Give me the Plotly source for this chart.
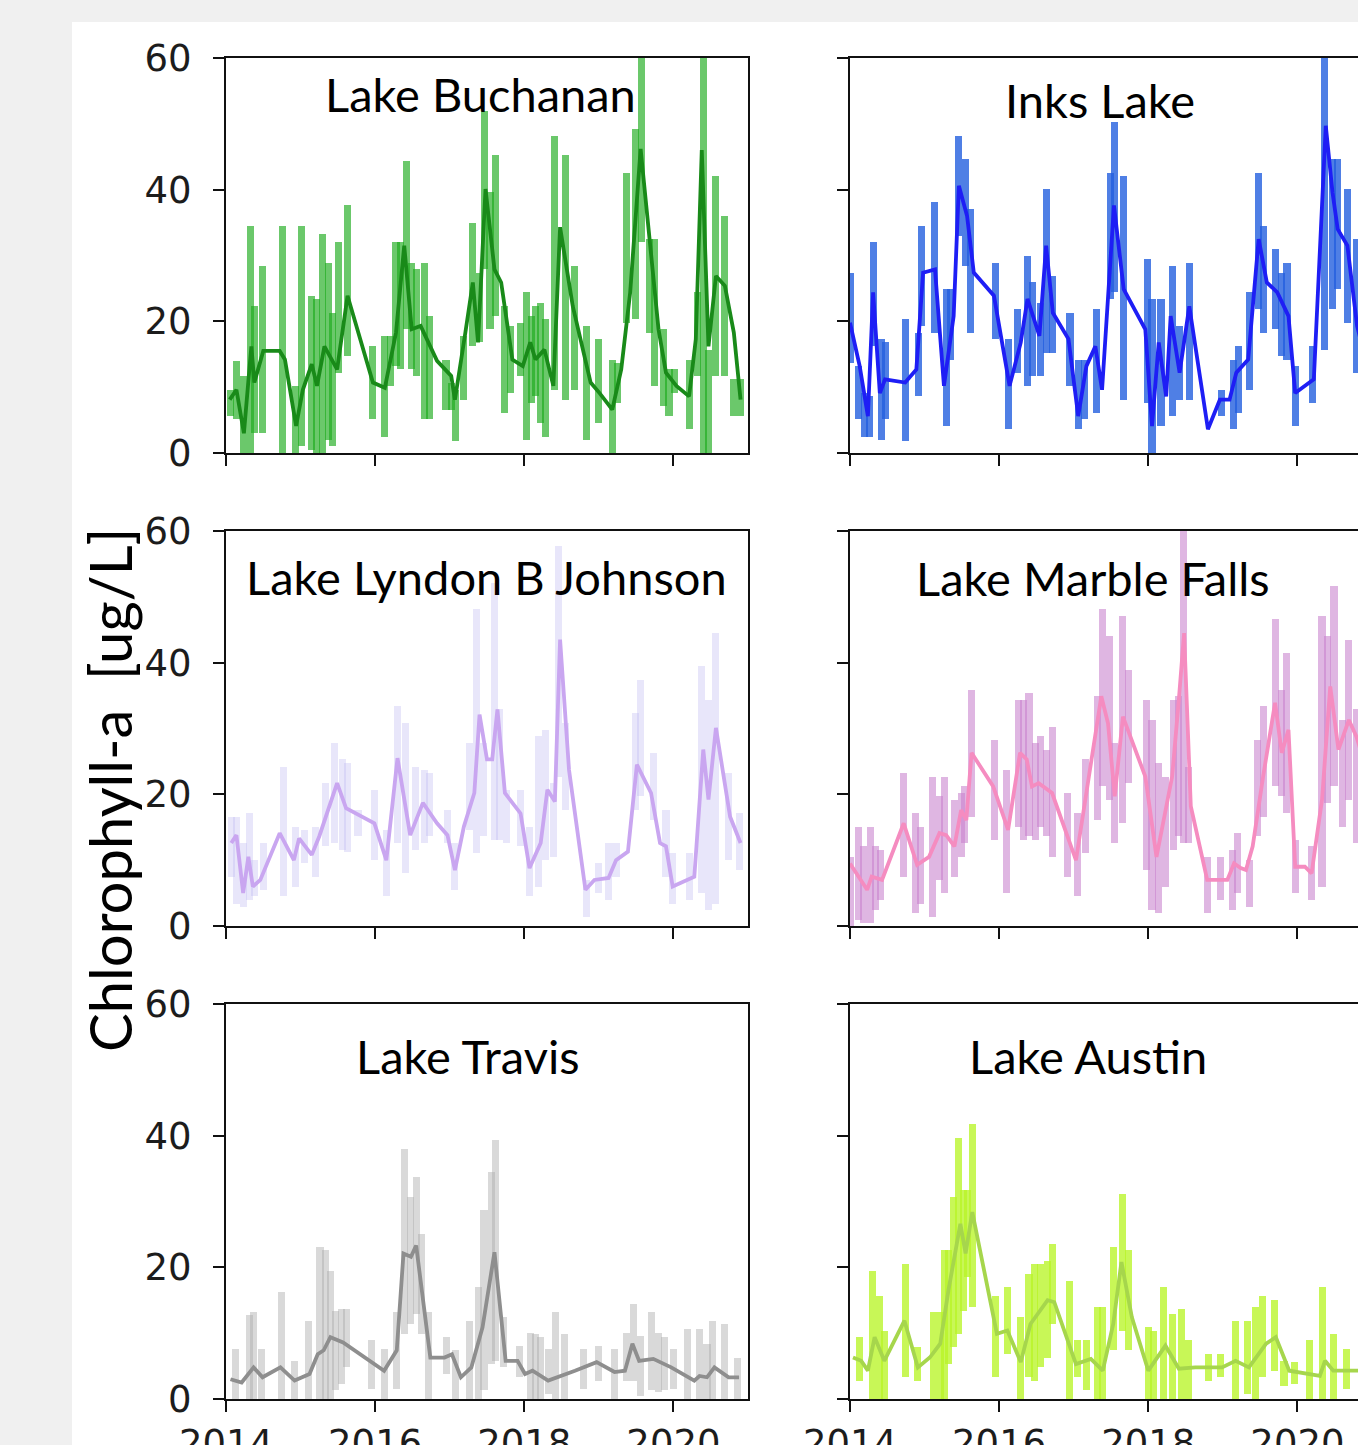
import plotly.graph_objects as go

# ---------------- data (decimal years, chlorophyll-a ug/L) ----------------
BUCHANAN_LINE_X = [2014.05, 2014.14, 2014.24, 2014.34, 2014.38, 2014.50, 2014.72, 2014.79, 2014.94, 2015.03,
                   2015.15, 2015.22, 2015.32, 2015.49, 2015.63, 2015.77, 2015.97, 2016.13, 2016.28, 2016.39,
                   2016.49, 2016.61, 2016.83, 2017.02, 2017.07, 2017.21, 2017.31, 2017.38, 2017.48, 2017.60,
                   2017.69, 2017.84, 2017.98, 2018.08, 2018.15, 2018.27, 2018.39, 2018.48, 2018.65, 2018.89,
                   2019.01, 2019.18, 2019.30, 2019.42, 2019.56, 2019.68, 2019.80, 2019.90, 2020.04, 2020.21,
                   2020.30, 2020.38, 2020.47, 2020.57, 2020.69, 2020.81, 2020.90]
BUCHANAN_LINE_Y = [8.1, 9.6, 3.0, 16.2, 10.7, 15.5, 15.5, 14.2, 4.1, 9.6,
                   13.5, 10.2, 16.2, 12.7, 23.9, 18.3, 10.7, 9.9, 18.3, 31.5,
                   18.8, 19.3, 14.0, 11.7, 8.1, 18.3, 25.9, 16.8, 40.1, 27.9,
                   25.9, 14.2, 13.2, 16.8, 14.2, 15.7, 10.2, 34.3, 22.3, 10.7,
                   9.1, 6.6, 12.7, 24.4, 46.2, 32.5, 18.8, 12.2, 10.2, 8.6,
                   17.3, 46.0, 16.2, 26.9, 25.4, 18.3, 8.1]
BUCHANAN_BAR_X = [2014.06, 2014.14, 2014.23, 2014.33, 2014.38, 2014.49, 2014.76, 2014.93, 2015.01, 2015.15,
                  2015.21, 2015.29, 2015.37, 2015.43, 2015.51, 2015.63, 2015.97, 2016.13, 2016.21, 2016.28,
                  2016.34, 2016.42, 2016.49, 2016.56, 2016.66, 2016.73, 2016.95, 2017.02, 2017.08, 2017.19,
                  2017.31, 2017.40, 2017.47, 2017.54, 2017.62, 2017.74, 2017.81, 2017.95, 2018.03, 2018.10,
                  2018.15, 2018.22, 2018.29, 2018.41, 2018.55, 2018.67, 2018.84, 2018.99, 2019.18, 2019.25,
                  2019.37, 2019.49, 2019.57, 2019.68, 2019.75, 2019.87, 2019.94, 2020.02, 2020.21, 2020.32,
                  2020.40, 2020.47, 2020.56, 2020.69, 2020.81, 2020.90]
BUCHANAN_BAR_HI = [9.6, 14.0, 11.7, 34.5, 22.3, 28.4, 34.5, 10.2, 34.5, 23.9,
                   23.4, 33.2, 28.9, 21.3, 32.0, 37.6, 16.2, 17.8, 17.8, 32.0,
                   32.0, 44.4, 28.9, 27.9, 28.9, 20.8, 14.2, 10.7, 9.6, 17.8,
                   35.0, 27.4, 52.0, 39.6, 45.2, 22.3, 19.3, 19.8, 24.4, 20.8,
                   22.3, 22.8, 20.3, 48.2, 45.2, 28.4, 19.3, 17.3, 14.2, 13.7,
                   42.6, 49.2, 65.0, 32.5, 32.5, 18.8, 12.7, 12.7, 14.2, 24.4,
                   65.0, 15.7, 42.1, 36.0, 11.2, 11.2]
BUCHANAN_BAR_LO = [5.6, 5.1, 0, 0, 3.0, 3.0, 0, 0, 1.0, 0.5,
                   0, 0, 2.0, 1.0, 12.2, 14.7, 5.1, 2.5, 10.2, 13.2,
                   12.7, 18.8, 12.7, 11.7, 5.1, 5.1, 6.6, 6.6, 1.8, 8.1,
                   16.2, 16.8, 27.9, 18.8, 20.8, 6.1, 9.1, 11.7, 2.0, 7.6,
                   8.6, 4.6, 2.5, 9.6, 8.1, 9.6, 2.0, 4.6, 0, 7.6,
                   19.8, 20.3, 32.0, 18.3, 10.2, 7.1, 5.6, 9.1, 3.6, 11.7,
                   0, 0, 11.7, 11.7, 5.6, 5.6]

INKS_LINE_X = [2014.00, 2014.13, 2014.24, 2014.31, 2014.40, 2014.47, 2014.74, 2014.89, 2014.98, 2015.14,
               2015.26, 2015.39, 2015.46, 2015.57, 2015.66, 2015.93, 2016.14, 2016.29, 2016.38, 2016.54,
               2016.63, 2016.72, 2016.93, 2017.06, 2017.17, 2017.29, 2017.38, 2017.54, 2017.67, 2017.96,
               2018.05, 2018.14, 2018.24, 2018.30, 2018.42, 2018.55, 2018.80, 2018.96, 2019.09, 2019.18,
               2019.34, 2019.48, 2019.59, 2019.73, 2019.88, 2019.97, 2020.22, 2020.29, 2020.38, 2020.47,
               2020.54, 2020.67, 2020.80, 2020.92]
INKS_LINE_Y = [19.8, 13.2, 5.6, 24.4, 9.1, 11.2, 10.7, 12.7, 27.4, 27.9,
               10.2, 20.8, 40.6, 36.0, 27.4, 23.9, 10.2, 16.8, 23.4, 17.8,
               31.5, 21.3, 17.3, 5.6, 13.2, 16.2, 9.6, 37.6, 24.9, 18.8,
               4.1, 16.8, 8.6, 20.8, 12.2, 22.3, 3.6, 8.1, 8.1, 12.2,
               14.2, 32.5, 25.9, 24.4, 20.8, 9.1, 11.2, 27.4, 49.7, 39.6,
               34.0, 31.5, 19.3, 14.0]
INKS_BAR_X = [2014.00, 2014.12, 2014.19, 2014.26, 2014.31, 2014.42, 2014.47, 2014.75, 2014.92, 2014.96,
              2015.13, 2015.29, 2015.35, 2015.46, 2015.55, 2015.62, 2015.95, 2016.12, 2016.25, 2016.38,
              2016.45, 2016.56, 2016.63, 2016.72, 2016.95, 2017.06, 2017.15, 2017.31, 2017.49, 2017.55,
              2017.67, 2017.99, 2018.05, 2018.17, 2018.33, 2018.42, 2018.55, 2018.98, 2019.14, 2019.21,
              2019.36, 2019.48, 2019.54, 2019.70, 2019.79, 2019.86, 2019.97, 2020.20, 2020.36, 2020.47,
              2020.54, 2020.67, 2020.79]
INKS_BAR_HI = [27.4, 13.2, 9.1, 8.6, 32.0, 17.3, 16.8, 20.3, 18.3, 34.5,
               38.1, 24.9, 24.9, 48.2, 44.7, 37.1, 28.9, 17.3, 21.8, 29.9,
               25.9, 22.8, 40.1, 26.9, 21.3, 14.2, 14.2, 21.8, 42.6, 50.3,
               42.1, 29.4, 23.4, 23.4, 28.4, 19.3, 28.9, 9.6, 14.2, 16.2,
               24.4, 42.6, 34.5, 31.0, 27.4, 28.9, 13.2, 16.2, 65.0, 44.7,
               44.7, 40.1, 32.5]
INKS_BAR_LO = [13.7, 5.1, 2.5, 2.5, 16.2, 2.0, 5.1, 1.8, 8.6, 19.3,
               18.3, 4.1, 14.2, 33.0, 28.4, 18.3, 17.3, 3.6, 12.2, 10.2,
               11.7, 11.7, 15.2, 15.2, 10.2, 3.6, 5.1, 6.1, 23.4, 24.4,
               8.1, 7.6, 0, 4.1, 5.6, 8.1, 8.1, 5.6, 3.6, 6.1,
               9.6, 21.8, 18.3, 18.8, 14.7, 14.2, 4.1, 7.6, 15.7, 21.8,
               24.9, 19.8, 12.2]

LBJ_LINE_X = [2014.07, 2014.14, 2014.23, 2014.30, 2014.36, 2014.46, 2014.72, 2014.91, 2014.98, 2015.15,
              2015.25, 2015.49, 2015.61, 2015.87, 2015.99, 2016.15, 2016.30, 2016.47, 2016.64, 2016.83,
              2016.97, 2017.07, 2017.19, 2017.33, 2017.40, 2017.50, 2017.57, 2017.64, 2017.74, 2017.95,
              2018.07, 2018.22, 2018.31, 2018.41, 2018.48, 2018.60, 2018.82, 2018.94, 2019.13, 2019.23,
              2019.39, 2019.51, 2019.70, 2019.82, 2019.90, 2019.99, 2020.28, 2020.40, 2020.47, 2020.57,
              2020.76, 2020.90]
LBJ_LINE_Y = [12.6, 13.8, 5.0, 10.5, 6.0, 7.0, 14.1, 10.0, 13.3, 10.8,
              13.6, 21.7, 17.9, 16.4, 15.6, 10.0, 25.5, 13.8, 18.7, 15.6,
              13.8, 8.5, 15.1, 20.2, 32.1, 25.3, 25.3, 32.9, 20.2, 17.1,
              8.8, 12.6, 20.7, 18.9, 43.5, 23.7, 5.5, 7.0, 7.3, 10.0,
              11.3, 24.5, 20.2, 12.6, 12.1, 6.0, 7.5, 26.8, 19.2, 30.1,
              16.6, 12.6]
LBJ_BAR_X = [2014.07, 2014.14, 2014.23, 2014.31, 2014.38, 2014.50, 2014.77, 2014.93, 2015.05, 2015.20,
             2015.34, 2015.46, 2015.56, 2015.63, 2015.77, 2015.99, 2016.15, 2016.30, 2016.41, 2016.54,
             2016.66, 2016.73, 2016.97, 2017.07, 2017.26, 2017.36, 2017.45, 2017.60, 2017.67, 2017.76,
             2017.95, 2018.07, 2018.19, 2018.29, 2018.39, 2018.46, 2018.55, 2018.84, 2018.99, 2019.13,
             2019.23, 2019.49, 2019.56, 2019.73, 2019.90, 2019.99, 2020.21, 2020.38, 2020.47, 2020.57,
             2020.74, 2020.88]
LBJ_BAR_HI = [16.6, 16.6, 12.6, 17.1, 10.0, 12.6, 24.2, 15.1, 14.6, 15.1,
              21.7, 27.8, 25.3, 24.7, 17.6, 20.7, 14.6, 33.4, 30.8, 24.2,
              23.7, 23.2, 17.6, 12.6, 27.8, 48.1, 27.8, 52.1, 32.9, 20.7,
              20.7, 15.1, 28.8, 29.8, 21.7, 57.7, 30.8, 7.0, 9.5, 12.6,
              12.6, 32.4, 37.4, 26.3, 17.6, 11.1, 11.1, 39.5, 34.4, 44.5,
              23.2, 17.1]
LBJ_BAR_LO = [7.5, 3.4, 2.9, 4.0, 4.5, 5.5, 4.5, 6.0, 9.5, 7.5,
              12.1, 12.6, 11.6, 11.3, 13.6, 10.0, 4.5, 12.6, 8.0, 11.6,
              12.6, 13.6, 12.6, 5.5, 14.6, 11.1, 13.6, 13.1, 13.1, 12.6,
              12.1, 4.5, 6.0, 10.0, 10.5, 22.7, 17.6, 1.4, 5.0, 4.0,
              7.5, 17.6, 19.7, 16.1, 7.5, 3.4, 4.0, 5.0, 2.4, 3.4,
              10.0, 8.5]

MARBLE_LINE_X = [2014.00, 2014.11, 2014.23, 2014.29, 2014.43, 2014.72, 2014.90, 2015.06, 2015.20, 2015.29,
                 2015.40, 2015.49, 2015.56, 2015.63, 2015.92, 2016.12, 2016.28, 2016.37, 2016.44, 2016.53,
                 2016.71, 2017.03, 2017.37, 2017.46, 2017.55, 2017.66, 2017.96, 2018.11, 2018.23, 2018.32,
                 2018.41, 2018.48, 2018.57, 2018.79, 2018.95, 2019.06, 2019.15, 2019.24, 2019.31, 2019.40,
                 2019.54, 2019.70, 2019.79, 2019.88, 2019.97, 2020.10, 2020.19, 2020.33, 2020.44, 2020.55,
                 2020.69, 2020.79, 2020.92]
MARBLE_LINE_Y = [9.5, 7.5, 5.5, 7.5, 7.0, 15.6, 9.3, 10.5, 14.1, 13.8,
                 12.1, 17.6, 16.1, 26.3, 21.2, 14.6, 26.3, 25.3, 21.2, 21.7,
                 20.2, 10.0, 34.9, 30.8, 19.7, 31.8, 22.7, 10.5, 17.6, 22.7,
                 34.4, 44.5, 18.2, 7.0, 7.0, 7.0, 9.5, 8.8, 8.5, 12.1,
                 22.7, 33.9, 26.3, 29.8, 9.0, 9.0, 8.0, 19.2, 36.4, 26.8,
                 31.3, 28.8, 24.0]
MARBLE_BAR_X = [2014.00, 2014.11, 2014.18, 2014.27, 2014.34, 2014.41, 2014.72, 2014.88, 2014.95, 2015.11,
                2015.20, 2015.27, 2015.40, 2015.49, 2015.54, 2015.63, 2015.94, 2016.10, 2016.26, 2016.33,
                2016.40, 2016.49, 2016.55, 2016.64, 2016.71, 2016.92, 2017.05, 2017.16, 2017.32, 2017.39,
                2017.48, 2017.55, 2017.66, 2017.73, 2017.98, 2018.05, 2018.14, 2018.23, 2018.34, 2018.41,
                2018.47, 2018.54, 2018.79, 2018.97, 2019.13, 2019.20, 2019.36, 2019.47, 2019.54, 2019.70,
                2019.79, 2019.85, 2019.97, 2020.19, 2020.33, 2020.40, 2020.49, 2020.60, 2020.69, 2020.79]
MARBLE_BAR_HI = [10.5, 15.1, 12.1, 15.1, 12.1, 11.6, 23.2, 17.1, 15.1, 22.7,
                 19.7, 22.7, 19.2, 20.2, 21.2, 35.9, 28.3, 23.7, 34.4, 34.4,
                 35.4, 27.8, 28.8, 26.8, 30.3, 20.2, 17.1, 25.3, 34.9, 48.1,
                 44.0, 27.8, 47.1, 38.9, 34.4, 31.3, 24.7, 22.7, 34.4, 34.9,
                 65.0, 24.2, 10.5, 10.5, 11.6, 14.1, 10.0, 28.3, 33.4, 46.6,
                 35.9, 41.5, 13.1, 12.1, 47.1, 44.0, 51.6, 31.3, 43.5, 32.9]
MARBLE_BAR_LO = [0, 0.9, 0.4, 0.4, 2.4, 4.0, 7.5, 1.9, 3.4, 1.4,
                 7.0, 5.0, 7.5, 10.5, 12.6, 16.6, 13.1, 5.0, 15.1, 13.1,
                 13.6, 13.1, 15.1, 13.6, 10.5, 7.5, 4.5, 11.1, 16.1, 21.2,
                 19.2, 12.6, 15.6, 21.7, 8.5, 2.4, 1.9, 6.0, 11.6, 13.6,
                 12.6, 12.6, 1.9, 4.0, 2.4, 5.0, 2.9, 13.6, 16.6, 21.2,
                 19.7, 17.1, 5.0, 4.0, 6.0, 18.7, 21.2, 15.1, 19.2, 12.6]

TRAVIS_LINE_X = [2014.06, 2014.21, 2014.37, 2014.49, 2014.73, 2014.92, 2015.12, 2015.23, 2015.31, 2015.40,
                 2015.57, 2015.86, 2016.12, 2016.29, 2016.38, 2016.48, 2016.55, 2016.74, 2016.93, 2017.03,
                 2017.15, 2017.29, 2017.44, 2017.60, 2017.75, 2017.91, 2018.01, 2018.11, 2018.32, 2018.68,
                 2018.97, 2019.21, 2019.35, 2019.45, 2019.54, 2019.73, 2019.97, 2020.28, 2020.35, 2020.45,
                 2020.55, 2020.74, 2020.88]
TRAVIS_LINE_Y = [3.0, 2.5, 4.8, 3.3, 4.8, 2.8, 3.8, 6.8, 7.4, 9.4,
                 8.6, 6.3, 4.3, 7.4, 22.1, 21.6, 23.3, 6.3, 6.3, 6.8,
                 3.3, 4.8, 10.9, 22.3, 5.8, 5.8, 3.8, 4.3, 2.8, 4.3,
                 5.6, 4.1, 4.3, 8.4, 5.8, 6.1, 4.8, 2.8, 3.5, 3.3,
                 4.8, 3.3, 3.3]
TRAVIS_BAR_X = [2014.13, 2014.32, 2014.37, 2014.48, 2014.75, 2014.92, 2015.11, 2015.26, 2015.33, 2015.40,
                2015.47, 2015.55, 2015.62, 2015.95, 2016.12, 2016.29, 2016.39, 2016.48, 2016.55, 2016.62,
                2016.72, 2016.96, 2017.08, 2017.27, 2017.39, 2017.46, 2017.56, 2017.62, 2017.72, 2017.94,
                2018.08, 2018.15, 2018.22, 2018.32, 2018.42, 2018.54, 2018.80, 2018.99, 2019.21, 2019.37,
                2019.47, 2019.56, 2019.71, 2019.80, 2019.88, 2020.00, 2020.19, 2020.35, 2020.45, 2020.52,
                2020.69, 2020.86]
TRAVIS_BAR_HI = [7.6, 12.7, 13.2, 7.6, 16.2, 5.8, 11.9, 23.1, 22.6, 19.5,
                 13.4, 13.7, 13.7, 8.9, 7.6, 13.2, 38.0, 30.7, 33.7, 25.1,
                 13.2, 9.4, 7.4, 11.9, 17.0, 28.7, 34.5, 39.3, 12.4, 8.1,
                 10.1, 9.9, 9.4, 7.6, 13.2, 9.9, 7.6, 8.1, 7.6, 10.1,
                 14.5, 9.6, 13.2, 10.1, 9.4, 7.6, 10.6, 10.6, 8.4, 11.9,
                 11.4, 6.3]
TRAVIS_BAR_LO = [0, 0, 0, 0, 0, 0, 0, 0, 0, 0,
                 1.3, 2.3, 4.8, 1.5, 0, 1.5, 9.9, 11.4, 12.9, 9.9,
                 0, 3.8, 0, 0, 0, 1.3, 5.3, 5.8, 4.8, 3.3,
                 0, 0, 0, 0.8, 0, 0, 1.5, 2.8, 0, 2.8,
                 2.8, 0.5, 1.3, 1.0, 1.3, 1.5, 0, 0, 0, 0,
                 0, 0]

AUSTIN_LINE_X = [2014.04, 2014.15, 2014.24, 2014.33, 2014.46, 2014.73, 2014.91, 2015.07, 2015.21, 2015.32,
                 2015.48, 2015.55, 2015.64, 2015.79, 2015.97, 2016.11, 2016.29, 2016.42, 2016.65, 2016.74,
                 2017.03, 2017.23, 2017.39, 2017.53, 2017.64, 2017.78, 2018.00, 2018.23, 2018.41, 2018.63,
                 2018.83, 2018.99, 2019.17, 2019.35, 2019.58, 2019.71, 2019.89, 2020.16, 2020.30, 2020.37,
                 2020.48, 2020.78, 2020.95]
AUSTIN_LINE_Y = [6.3, 5.8, 4.3, 9.4, 5.8, 11.9, 4.8, 6.3, 8.4, 16.5,
                 26.6, 22.1, 28.4, 20.0, 9.9, 10.4, 5.6, 11.4, 15.0, 14.7,
                 5.3, 6.1, 4.3, 11.4, 20.8, 12.4, 4.3, 8.1, 4.6, 4.8,
                 4.8, 4.8, 5.8, 4.8, 8.4, 9.4, 4.3, 3.8, 3.5, 5.8,
                 4.3, 4.3, 4.3]
AUSTIN_BAR_X = [2014.13, 2014.30, 2014.40, 2014.46, 2014.75, 2014.91, 2015.12, 2015.21, 2015.27, 2015.32,
                2015.39, 2015.45, 2015.52, 2015.57, 2015.64, 2015.95, 2016.11, 2016.29, 2016.40, 2016.47,
                2016.56, 2016.65, 2016.72, 2016.94, 2017.05, 2017.17, 2017.32, 2017.39, 2017.53, 2017.66,
                2017.73, 2018.00, 2018.07, 2018.20, 2018.32, 2018.45, 2018.54, 2018.81, 2018.97, 2019.17,
                2019.33, 2019.44, 2019.53, 2019.69, 2019.82, 2019.96, 2020.16, 2020.34, 2020.48, 2020.66]
AUSTIN_BAR_HI = [9.4, 19.5, 15.7, 10.4, 20.5, 7.9, 13.2, 13.2, 22.6, 22.6,
                 30.7, 39.6, 31.7, 31.7, 41.8, 15.7, 17.0, 12.4, 19.0, 20.5,
                 20.5, 21.0, 23.6, 18.0, 8.9, 8.9, 13.9, 13.9, 23.1, 31.2,
                 22.6, 10.9, 10.4, 17.0, 12.9, 13.7, 8.9, 6.8, 6.8, 11.9,
                 11.9, 13.9, 15.7, 15.0, 5.8, 5.6, 8.9, 17.0, 9.9, 7.6]
AUSTIN_BAR_LO = [2.8, 0, 0, 0, 3.3, 2.8, 0, 0, 0, 5.3,
                 7.9, 9.9, 13.4, 18.5, 13.9, 3.3, 6.8, 0, 3.3, 2.8,
                 4.8, 6.3, 11.4, 0, 3.3, 1.3, 0, 0, 7.4, 10.4,
                 7.4, 0, 0, 0, 0, 0, 0, 2.8, 3.3, 0,
                 0.8, 0, 3.3, 4.3, 2.0, 2.3, 0, 0, 0, 1.5]

LAKE_NAMES = ["Lake Buchanan", "Inks Lake", "Lake Lyndon B Johnson",
              "Lake Marble Falls", "Lake Travis", "Lake Austin"]
Y_TICKS = [0, 20, 40, 60]
X_TICKS = [2014, 2016, 2018, 2020]
X_TICK_TEXT = ["2014", "2016", "2018", "2020"]
Y_TITLE = "Chlorophyll-a  [ug/L]"

# ---------------- styling ----------------
W, H = 1358, 1445
BAR_COLORS = ["rgba(30,172,30,0.66)", "rgba(35,95,222,0.80)", "rgba(190,185,240,0.36)",
              "rgba(200,130,205,0.58)", "rgba(170,170,170,0.45)", "rgba(185,245,40,0.78)"]
LINE_COLORS = ["#198a19", "#1e1ef5", "#c9a6f0", "#f58cc0", "#8e8e8e", "#a6d64c"]

series = [
    (BUCHANAN_LINE_X, BUCHANAN_LINE_Y, BUCHANAN_BAR_X, BUCHANAN_BAR_LO, BUCHANAN_BAR_HI),
    (INKS_LINE_X, INKS_LINE_Y, INKS_BAR_X, INKS_BAR_LO, INKS_BAR_HI),
    (LBJ_LINE_X, LBJ_LINE_Y, LBJ_BAR_X, LBJ_BAR_LO, LBJ_BAR_HI),
    (MARBLE_LINE_X, MARBLE_LINE_Y, MARBLE_BAR_X, MARBLE_BAR_LO, MARBLE_BAR_HI),
    (TRAVIS_LINE_X, TRAVIS_LINE_Y, TRAVIS_BAR_X, TRAVIS_BAR_LO, TRAVIS_BAR_HI),
    (AUSTIN_LINE_X, AUSTIN_LINE_Y, AUSTIN_BAR_X, AUSTIN_BAR_LO, AUSTIN_BAR_HI),
]

COL_PX = [(226, 748), (850, 1358)]
ROW_PX = [(58, 453), (531, 926), (1004, 1399)]
PX_PER_YEAR = (748 - 226) / 7.0
TITLE_POS = [(480, 94), (1100, 100), (486, 577), (1093, 578), (468, 1056), (1088, 1056)]

TICK_FONT = dict(family="DejaVu Sans, sans-serif", size=37, color="#1c1c1c")

fig = go.Figure()
layout_axes = {}
annotations = []
for i, (lx, ly, bx, blo, bhi) in enumerate(series):
    n = i + 1
    row, col = divmod(i, 2)
    xa = "x" if n == 1 else f"x{n}"
    ya = "y" if n == 1 else f"y{n}"
    fig.add_trace(go.Bar(
        x=bx, y=[h - l for h, l in zip(bhi, blo)], base=blo, width=0.095,
        marker=dict(color=BAR_COLORS[i], line=dict(width=0)),
        xaxis=xa, yaxis=ya, showlegend=False, hoverinfo="skip"))
    fig.add_trace(go.Scatter(
        x=lx, y=ly, mode="lines", line=dict(color=LINE_COLORS[i], width=3.8),
        xaxis=xa, yaxis=ya, showlegend=False))

    x0, x1 = COL_PX[col]
    y0, y1 = ROW_PX[row]
    xmax = 2014 + (x1 - x0) / PX_PER_YEAR
    layout_axes["xaxis" if n == 1 else f"xaxis{n}"] = dict(
        domain=[x0 / W, x1 / W], range=[2014, xmax], anchor=ya, automargin=False,
        showline=True, linecolor="#111", linewidth=2, mirror=True,
        ticks="outside", ticklen=11, tickwidth=2, tickcolor="#111",
        tickvals=X_TICKS, ticktext=X_TICK_TEXT, showticklabels=(row == 2),
        tickfont=TICK_FONT, ticklabelstandoff=0,
        showgrid=False, zeroline=False, fixedrange=True)
    layout_axes["yaxis" if n == 1 else f"yaxis{n}"] = dict(
        domain=[1 - y1 / H, 1 - y0 / H], range=[0, 60], anchor=xa, automargin=False,
        showline=True, linecolor="#111", linewidth=2, mirror=(col == 0),
        ticks="outside", ticklen=11, tickwidth=2, tickcolor="#111",
        tickvals=Y_TICKS, showticklabels=(col == 0),
        tickfont=TICK_FONT, ticklabelstandoff=14,
        showgrid=False, zeroline=False, fixedrange=True)

    tx, ty = TITLE_POS[i]
    annotations.append(dict(
        text=LAKE_NAMES[i], x=tx / W, y=1 - ty / H, xref="paper", yref="paper",
        xanchor="center", yanchor="middle", showarrow=False,
        font=dict(family="Lato, Open Sans, sans-serif", size=47, color="#000")))

annotations.append(dict(
    text=Y_TITLE, x=109 / W, y=1 - 790 / H, xref="paper", yref="paper",
    xanchor="center", yanchor="middle", textangle=-90, showarrow=False,
    font=dict(family="Lato, Open Sans, sans-serif", size=58, color="#000")))

fig.update_layout(
    width=W, height=H, margin=dict(l=0, r=0, t=0, b=0, autoexpand=False),
    paper_bgcolor="#f0f0f0", plot_bgcolor="white",
    barmode="overlay", bargap=0,
    annotations=annotations,
    shapes=[dict(type="rect", xref="paper", yref="paper", x0=72 / W, x1=1.0,
                 y0=0, y1=1 - 22 / H, fillcolor="white", line=dict(width=0), layer="below")],
    **layout_axes)

fig.write_html("out.html", config={"displayModeBar": False},
               post_script="document.body.style.margin='0';document.body.style.overflow='hidden';")
